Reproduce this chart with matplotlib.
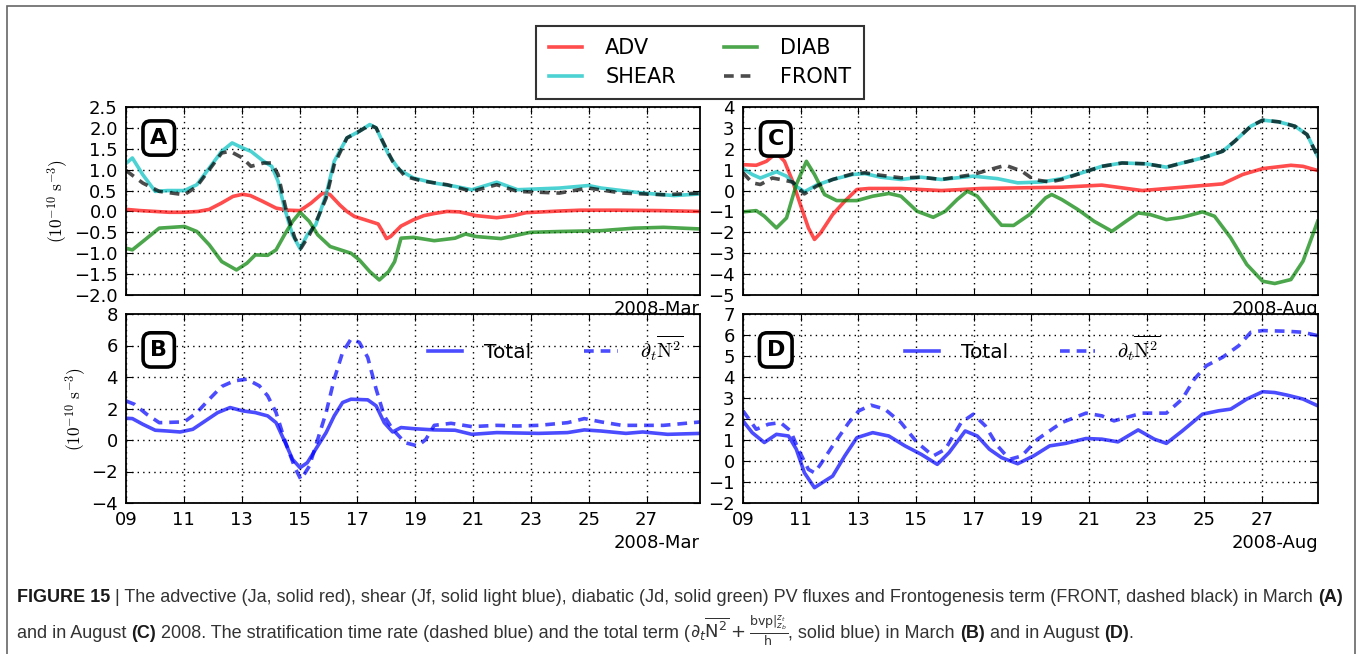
import matplotlib
matplotlib.use('Agg')
import matplotlib.pyplot as plt
from matplotlib import transforms, patches
from matplotlib.lines import Line2D
from matplotlib.font_manager import findfont, FontProperties

# ---------------- data (day of month, value in 1e-10 s^-3) ----------------
# Panel A (March)
adv_a_day = [9.0, 9.5, 10.0, 10.5, 11.0, 11.5, 11.88, 12.3, 12.7, 13.03, 13.3, 13.7, 14.19, 14.6, 15.02,
             15.4, 15.77, 15.92, 16.06, 16.4, 16.64, 16.9, 17.36, 17.72, 17.85, 18.01, 18.15, 18.51, 18.94,
             19.3, 19.66, 20.1, 20.53, 21.1, 21.82, 22.4, 22.83, 23.99, 24.71, 26.0, 27.5, 28.88]
adv_a_val = [0.05, 0.02, 0.0, -0.02, -0.02, 0.0, 0.05, 0.2, 0.36, 0.41, 0.38, 0.25, 0.08, 0.03, 0.02,
             0.2, 0.42, 0.44, 0.4, 0.15, 0.0, -0.12, -0.22, -0.3, -0.45, -0.65, -0.6, -0.35, -0.2,
             -0.1, -0.05, 0.0, -0.01, -0.1, -0.15, -0.1, -0.03, 0.01, 0.03, 0.03, 0.02, 0.0]

shear_a_day = [9.0, 9.22, 9.58, 10.01, 10.44, 11.02, 11.45, 11.88, 12.31, 12.67, 13.03, 13.32, 13.76, 14.04,
               14.26, 14.48, 14.76, 15.02, 15.27, 15.56, 15.92, 16.2, 16.64, 17.07, 17.43, 17.65, 18.08,
               18.44, 18.94, 19.66, 20.38, 20.96, 21.82, 22.54, 23.99, 24.99, 25.43, 26.87, 27.95, 28.88]
shear_a_val = [1.15, 1.28, 0.88, 0.48, 0.5, 0.5, 0.64, 1.04, 1.44, 1.64, 1.52, 1.44, 1.2, 1.08,
               0.72, 0.08, -0.56, -0.89, -0.56, -0.32, 0.4, 1.2, 1.76, 1.92, 2.08, 2.0, 1.36,
               1.0, 0.8, 0.68, 0.6, 0.52, 0.7, 0.52, 0.56, 0.62, 0.56, 0.44, 0.38, 0.42]

front_a_day = [9.0, 9.58, 10.15, 11.02, 11.45, 11.88, 12.31, 12.6, 13.03, 13.32, 13.76, 14.04, 14.26, 14.55,
               14.84, 15.05, 15.34, 15.63, 15.92, 16.2, 16.64, 17.07, 17.43, 17.65, 18.22, 18.65, 19.23,
               20.1, 20.96, 21.82, 22.54, 23.99, 24.99, 26.15, 27.59, 28.88]
front_a_val = [0.98, 0.68, 0.48, 0.4, 0.6, 1.0, 1.4, 1.44, 1.28, 1.08, 1.16, 1.16, 0.88, 0.0,
               -0.64, -0.88, -0.56, -0.16, 0.32, 1.12, 1.76, 1.92, 2.07, 2.0, 1.2, 0.84, 0.73,
               0.64, 0.48, 0.64, 0.48, 0.44, 0.56, 0.44, 0.4, 0.44]

diab_a_day = [9.0, 9.22, 9.58, 10.15, 11.02, 11.45, 11.88, 12.31, 12.82, 13.18, 13.47, 13.9, 14.19, 14.48,
              14.76, 15.02, 15.34, 15.63, 16.06, 16.78, 17.07, 17.43, 17.76, 18.08, 18.29, 18.51, 18.94,
              19.66, 20.38, 20.74, 21.1, 21.97, 22.98, 23.99, 25.43, 26.58, 27.59, 28.88]
diab_a_val = [-0.88, -0.92, -0.72, -0.4, -0.36, -0.48, -0.8, -1.2, -1.4, -1.24, -1.04, -1.05, -0.92, -0.56,
              -0.24, -0.02, -0.24, -0.56, -0.84, -1.0, -1.16, -1.44, -1.64, -1.44, -1.2, -0.64, -0.62,
              -0.7, -0.64, -0.54, -0.6, -0.65, -0.5, -0.48, -0.46, -0.4, -0.38, -0.42]

# Panel C (August)
adv_c_day = [9.0, 9.46, 9.81, 10.16, 10.44, 10.72, 10.99, 11.27, 11.48, 11.69, 12.11, 12.53, 12.95, 13.37,
             14.48, 15.88, 17.27, 18.67, 20.06, 21.45, 22.15, 22.85, 24.24, 25.64, 26.34, 27.03, 28.01,
             28.43, 28.94]
adv_c_val = [1.24, 1.21, 1.4, 1.8, 1.4, 0.45, -0.67, -1.79, -2.34, -2.03, -1.15, -0.51, 0.05, 0.1,
             0.1, 0.0, 0.1, 0.13, 0.16, 0.26, 0.13, 0.0, 0.16, 0.32, 0.77, 1.05, 1.21,
             1.16, 0.96]

shear_c_day = [9.0, 9.32, 9.6, 10.16, 10.51, 10.85, 11.13, 11.55, 12.11, 12.81, 13.23, 13.78, 14.48, 15.18,
               15.88, 16.99, 17.83, 18.53, 19.36, 20.06, 20.76, 21.45, 22.15, 22.99, 23.69, 24.24, 24.94,
               25.64, 26.06, 26.62, 27.03, 27.59, 28.15, 28.57, 28.94]
shear_c_val = [1.05, 0.77, 0.6, 0.9, 0.69, 0.2, -0.06, 0.26, 0.53, 0.77, 0.81, 0.64, 0.53, 0.64,
               0.53, 0.69, 0.57, 0.37, 0.41, 0.57, 0.85, 1.16, 1.32, 1.28, 1.12, 1.32, 1.56,
               1.88, 2.36, 3.08, 3.37, 3.29, 3.08, 2.68, 1.64]

front_c_day = [9.0, 9.32, 9.6, 10.02, 10.3, 10.72, 11.13, 11.55, 12.11, 12.81, 13.23, 13.78, 14.48, 15.18,
               15.88, 16.99, 17.55, 18.11, 18.67, 19.08, 19.64, 20.06, 20.76, 21.45, 22.15, 22.99, 23.69,
               24.24, 24.94, 25.64, 26.06, 26.62, 27.03, 27.59, 28.15, 28.57, 28.94]
front_c_val = [0.85, 0.37, 0.29, 0.6, 0.53, 0.41, -0.16, 0.21, 0.53, 0.8, 0.85, 0.73, 0.61, 0.64,
               0.53, 0.77, 1.0, 1.21, 0.93, 0.53, 0.41, 0.53, 0.85, 1.16, 1.32, 1.28, 1.12,
               1.32, 1.56, 1.88, 2.36, 3.08, 3.37, 3.29, 3.08, 2.68, 1.64]

diab_c_day = [9.0, 9.46, 9.74, 10.16, 10.51, 10.85, 11.2, 11.48, 11.83, 12.25, 12.95, 13.5, 14.06, 14.48,
              15.04, 15.6, 16.02, 16.43, 16.78, 17.13, 17.55, 17.97, 18.39, 18.94, 19.5, 19.71, 20.06,
              20.62, 21.18, 21.8, 22.29, 22.71, 23.13, 23.69, 24.24, 24.94, 25.36, 25.92, 26.48, 27.03,
              27.45, 28.01, 28.43, 28.94]
diab_c_val = [-1.02, -0.96, -1.23, -1.79, -1.31, 0.29, 1.4, 0.77, -0.19, -0.48, -0.48, -0.27, -0.14, -0.27,
              -0.99, -1.28, -0.99, -0.43, -0.03, -0.27, -0.99, -1.66, -1.67, -1.15, -0.35, -0.19, -0.43,
              -0.91, -1.47, -1.95, -1.47, -1.07, -1.15, -1.39, -1.28, -1.02, -1.23, -2.26, -3.54, -4.34,
              -4.45, -4.26, -3.38, -1.47]

# Panel B (March)
total_b_day = [9.0, 9.22, 9.58, 10.01, 10.44, 10.87, 11.31, 11.74, 12.17, 12.6, 13.03, 13.47, 13.9, 14.19,
               14.48, 14.76, 15.02, 15.27, 15.63, 15.92, 16.2, 16.49, 16.78, 17.36, 17.65, 17.93, 18.22,
               18.51, 18.94, 19.66, 20.38, 20.96, 21.82, 23.27, 24.27, 24.85, 25.43, 26.29, 26.87, 27.73,
               28.88]
total_b_val = [1.38, 1.36, 1.0, 0.62, 0.57, 0.51, 0.68, 1.21, 1.74, 2.06, 1.85, 1.74, 1.53, 1.1,
               -0.06, -1.23, -1.76, -1.44, -0.38, 0.47, 1.53, 2.38, 2.59, 2.55, 2.17, 1.1, 0.51,
               0.79, 0.72, 0.64, 0.62, 0.36, 0.47, 0.42, 0.47, 0.64, 0.57, 0.42, 0.51, 0.36,
               0.42]

dn2_b_day = [9.0, 9.29, 9.72, 10.15, 11.02, 11.45, 11.88, 12.31, 12.75, 13.18, 13.61, 13.9, 14.19, 14.48,
             14.84, 15.05, 15.34, 15.63, 15.92, 16.2, 16.49, 16.78, 17.07, 17.36, 17.65, 17.93, 18.22,
             18.65, 19.09, 19.37, 19.66, 20.24, 20.96, 21.82, 22.54, 23.27, 24.27, 24.85, 25.43, 26.15,
             27.59, 28.88]
dn2_b_val = [2.48, 2.27, 1.63, 1.1, 1.15, 1.74, 2.59, 3.4, 3.76, 3.86, 3.44, 2.8, 1.74, 0.04,
             -1.76, -2.51, -1.66, 0.04, 1.74, 3.86, 5.56, 6.41, 6.2, 5.24, 3.23, 1.53, 0.68,
             -0.17, -0.38, 0.04, 0.93, 1.06, 0.85, 0.93, 0.89, 0.93, 1.1, 1.36, 1.15, 0.93,
             0.93, 1.15]

# Panel D (August)
total_d_day = [9.0, 9.32, 9.74, 10.16, 10.58, 10.85, 11.13, 11.48, 11.83, 12.11, 12.53, 12.95, 13.5, 14.06,
               14.62, 15.18, 15.74, 16.15, 16.71, 17.13, 17.55, 17.97, 18.53, 19.08, 19.64, 20.2, 20.9,
               21.45, 22.01, 22.71, 23.27, 23.69, 24.24, 24.94, 25.5, 25.92, 26.48, 27.03, 27.45, 27.87,
               28.43, 28.94]
total_d_val = [1.91, 1.35, 0.88, 1.27, 1.19, 0.56, -0.56, -1.27, -0.96, -0.72, 0.24, 1.11, 1.35, 1.19,
               0.72, 0.32, -0.16, 0.4, 1.43, 1.19, 0.56, 0.16, -0.13, 0.24, 0.72, 0.84, 1.07,
               1.04, 0.91, 1.48, 1.04, 0.84, 1.43, 2.23, 2.39, 2.47, 2.95, 3.3, 3.26, 3.14,
               2.95, 2.63]

dn2_d_day = [9.0, 9.46, 9.88, 10.3, 10.65, 10.92, 11.27, 11.48, 11.69, 12.11, 12.67, 13.02, 13.44, 13.92,
             14.48, 15.04, 15.6, 16.02, 16.57, 16.99, 17.41, 17.83, 18.25, 18.67, 19.22, 20.06, 20.9,
             21.45, 21.87, 22.29, 22.85, 23.69, 24.24, 24.66, 25.08, 25.64, 26.2, 26.62, 27.03, 27.87,
             28.43, 28.94]
dn2_d_val = [2.39, 1.51, 1.75, 1.83, 1.43, 0.56, -0.4, -0.56, -0.16, 0.72, 1.83, 2.39, 2.66, 2.47,
             1.83, 0.88, 0.24, 0.56, 1.83, 2.23, 1.67, 0.72, 0.08, 0.24, 1.04, 1.83, 2.28,
             2.15, 1.91, 2.07, 2.28, 2.28, 2.95, 3.9, 4.54, 4.94, 5.49, 6.13, 6.21, 6.18,
             6.13, 5.97]

x_ticks = [9, 11, 13, 15, 17, 19, 21, 23, 25, 27]
x_tick_labels = ['09', '11', '13', '15', '17', '19', '21', '23', '25', '27']
yticks_a = [-2.0, -1.5, -1.0, -0.5, 0.0, 0.5, 1.0, 1.5, 2.0, 2.5]
yticks_b = [-4, -2, 0, 2, 4, 6, 8]
yticks_c = [-5, -4, -3, -2, -1, 0, 1, 2, 3, 4]
yticks_d = [-2, -1, 0, 1, 2, 3, 4, 5, 6, 7]
legend_labels = ['ADV', 'SHEAR', 'DIAB', 'FRONT']
month_labels = ['2008-Mar', '2008-Aug']
panel_letters = ['A', 'B', 'C', 'D']

# ---------------- style ----------------
plt.rcParams.update({
    'font.family': 'DejaVu Sans',
    'mathtext.fontset': 'cm',
    'xtick.direction': 'in', 'ytick.direction': 'in',
    'xtick.top': True, 'ytick.right': True,
    'xtick.major.size': 5, 'ytick.major.size': 5,
    'xtick.major.pad': 6, 'ytick.major.pad': 6,
    'xtick.labelsize': 13, 'ytick.labelsize': 13,
    'axes.linewidth': 1.3,
    'lines.scale_dashes': False,
})

RED = (1.0, 0.0, 0.0)
CYAN = (0.0, 0.75, 0.75)
GREEN = (0.0, 0.5, 0.0)
BLACK = (0.0, 0.0, 0.0)
BLUE = (0.0, 0.0, 1.0)
ALPHA = 0.7
LW = 2.6
DASH = (7, 5)

W, H = 1360, 654
fig = plt.figure(figsize=(W / 100, H / 100), dpi=100)


def axrect(l, t, r, b):
    return [l / W, 1 - b / H, (r - l) / W, (b - t) / H]


axA = fig.add_axes(axrect(126, 107, 700, 295))
axB = fig.add_axes(axrect(126, 314, 700, 503))
axC = fig.add_axes(axrect(743, 107, 1318, 295))
axD = fig.add_axes(axrect(743, 314, 1318, 503))


def style_axis(ax, yticks, ylim, yfmt, xlim, show_xlabels):
    ax.set_xlim(*xlim)
    ax.set_ylim(*ylim)
    ax.set_xticks(x_ticks)
    if show_xlabels:
        ax.set_xticklabels(x_tick_labels)
    else:
        ax.set_xticklabels([])
    ax.set_yticks(yticks)
    ax.set_yticklabels([yfmt.format(v).replace('-', '\u2212') for v in yticks])
    ax.grid(True, linestyle=(0, (1, 3)), color='black', linewidth=1.0)


def panel_label(ax, letter, y):
    ax.text(0.057, y, letter, transform=ax.transAxes, fontsize=16, fontweight='bold',
            ha='center', va='center', zorder=10,
            bbox=dict(boxstyle='round,pad=0.32,rounding_size=0.35', fc='white', ec='black', lw=2.6))


def plot_fluxes(ax, adv, shear, diab, front):
    ax.plot(*adv, color=RED, alpha=ALPHA, lw=LW)
    ax.plot(*shear, color=CYAN, alpha=ALPHA, lw=LW)
    ax.plot(*diab, color=GREEN, alpha=ALPHA, lw=LW)
    ax.plot(*front, color=BLACK, alpha=ALPHA, lw=LW, dashes=DASH)


def plot_total(ax, total, dn2, anchor):
    l1, = ax.plot(*total, color=BLUE, alpha=ALPHA, lw=LW, label='Total')
    l2, = ax.plot(*dn2, color=BLUE, alpha=ALPHA, lw=LW, dashes=DASH,
                  label=r'$\partial_t\overline{\mathrm{N}^2}$')
    ax.legend(handles=[l1, l2], loc='center', bbox_to_anchor=anchor, ncol=2, frameon=False,
              fontsize=14.5, handlelength=1.7, handletextpad=1.1, columnspacing=2.6)


plot_fluxes(axA, (adv_a_day, adv_a_val), (shear_a_day, shear_a_val),
            (diab_a_day, diab_a_val), (front_a_day, front_a_val))
plot_fluxes(axC, (adv_c_day, adv_c_val), (shear_c_day, shear_c_val),
            (diab_c_day, diab_c_val), (front_c_day, front_c_val))
plot_total(axB, (total_b_day, total_b_val), (dn2_b_day, dn2_b_val), (0.748, 0.82))
plot_total(axD, (total_d_day, total_d_val), (dn2_d_day, dn2_d_val), (0.503, 0.82))

style_axis(axA, yticks_a, (-2.0, 2.5), '{:.1f}', (9, 28.85), False)
style_axis(axB, yticks_b, (-4, 8), '{:d}', (9, 28.85), True)
style_axis(axC, yticks_c, (-5, 4), '{:d}', (9, 28.95), False)
style_axis(axD, yticks_d, (-2, 7), '{:d}', (9, 28.95), True)

ylab = r'$(10^{-10}\ \mathrm{s}^{-3})$'
for ax in (axA, axB):
    ax.set_ylabel(ylab, fontsize=12.5, labelpad=2.5)

panel_label(axA, panel_letters[0], 0.835)
panel_label(axB, panel_letters[1], 0.81)
panel_label(axC, panel_letters[2], 0.83)
panel_label(axD, panel_letters[3], 0.81)

for ax, m in ((axA, month_labels[0]), (axC, month_labels[1])):
    ax.text(1.0, -0.025, m, transform=ax.transAxes, ha='right', va='top', fontsize=13)
for ax, m in ((axB, month_labels[0]), (axD, month_labels[1])):
    ax.text(1.0, -0.165, m, transform=ax.transAxes, ha='right', va='top', fontsize=13)

# top legend
handles = [Line2D([], [], color=RED, alpha=ALPHA, lw=LW),
           Line2D([], [], color=CYAN, alpha=ALPHA, lw=LW),
           Line2D([], [], color=GREEN, alpha=ALPHA, lw=LW),
           Line2D([], [], color=BLACK, alpha=ALPHA, lw=LW, dashes=DASH)]
leg = fig.legend(handles, legend_labels, loc='upper center', bbox_to_anchor=(700 / W, 1 - 26 / H),
                 borderaxespad=0, ncol=2, fontsize=15, frameon=True, fancybox=False, handlelength=1.6,
                 handletextpad=1.1, columnspacing=2.3, borderpad=0.6, labelspacing=0.4)
leg.get_frame().set_edgecolor('black')
leg.get_frame().set_linewidth(1.5)

# outer border
fig.patches.append(patches.Rectangle((7, -5), 1348, 654 - 6 + 5, transform=transforms.IdentityTransform(),
                                     fill=False, ec='#666666', lw=1.2))

# caption
try:
    findfont(FontProperties(family='Liberation Sans Narrow'), fallback_to_default=False)
    cap_family = 'Liberation Sans Narrow'
    CAP_SIZE = 14.5
except Exception:
    cap_family = 'Liberation Sans'
    CAP_SIZE = 12.95

renderer = fig.canvas.get_renderer()


def draw_line(x0, y, segs):
    x = x0
    for text, bold in segs:
        t = fig.text(x, y, text, transform=transforms.IdentityTransform(), fontsize=CAP_SIZE,
                     family=cap_family, fontweight='bold' if bold else 'normal',
                     color='#1a1a1a' if bold else '#333333', va='baseline', ha='left',
                     math_fontfamily='dejavusans')
        x += t.get_window_extent(renderer).width
    return x


line1 = [('FIGURE 15', True), (' | The advective (Ja, solid red), shear (Jf, solid light blue), diabatic (Jd, solid green) '
          'PV fluxes and Frontogenesis term (FRONT, dashed black) in March ', False), ('(A)', True)]
line2 = [('and in August ', False), ('(C)', True),
         (' 2008. The stratification time rate (dashed blue) and the total term (', False),
         (r'$\partial_t\overline{\mathrm{N}^2}+\frac{\mathrm{bvp}|_{z_b}^{z_t}}{\mathrm{h}}$', False),
         (', solid blue) in March ', False), ('(B)', True), (' and in August ', False), ('(D)', True), ('.', False)]
draw_line(17, H - 602, line1)
draw_line(17, H - 638, line2)

fig.savefig('out.png', dpi=100)
